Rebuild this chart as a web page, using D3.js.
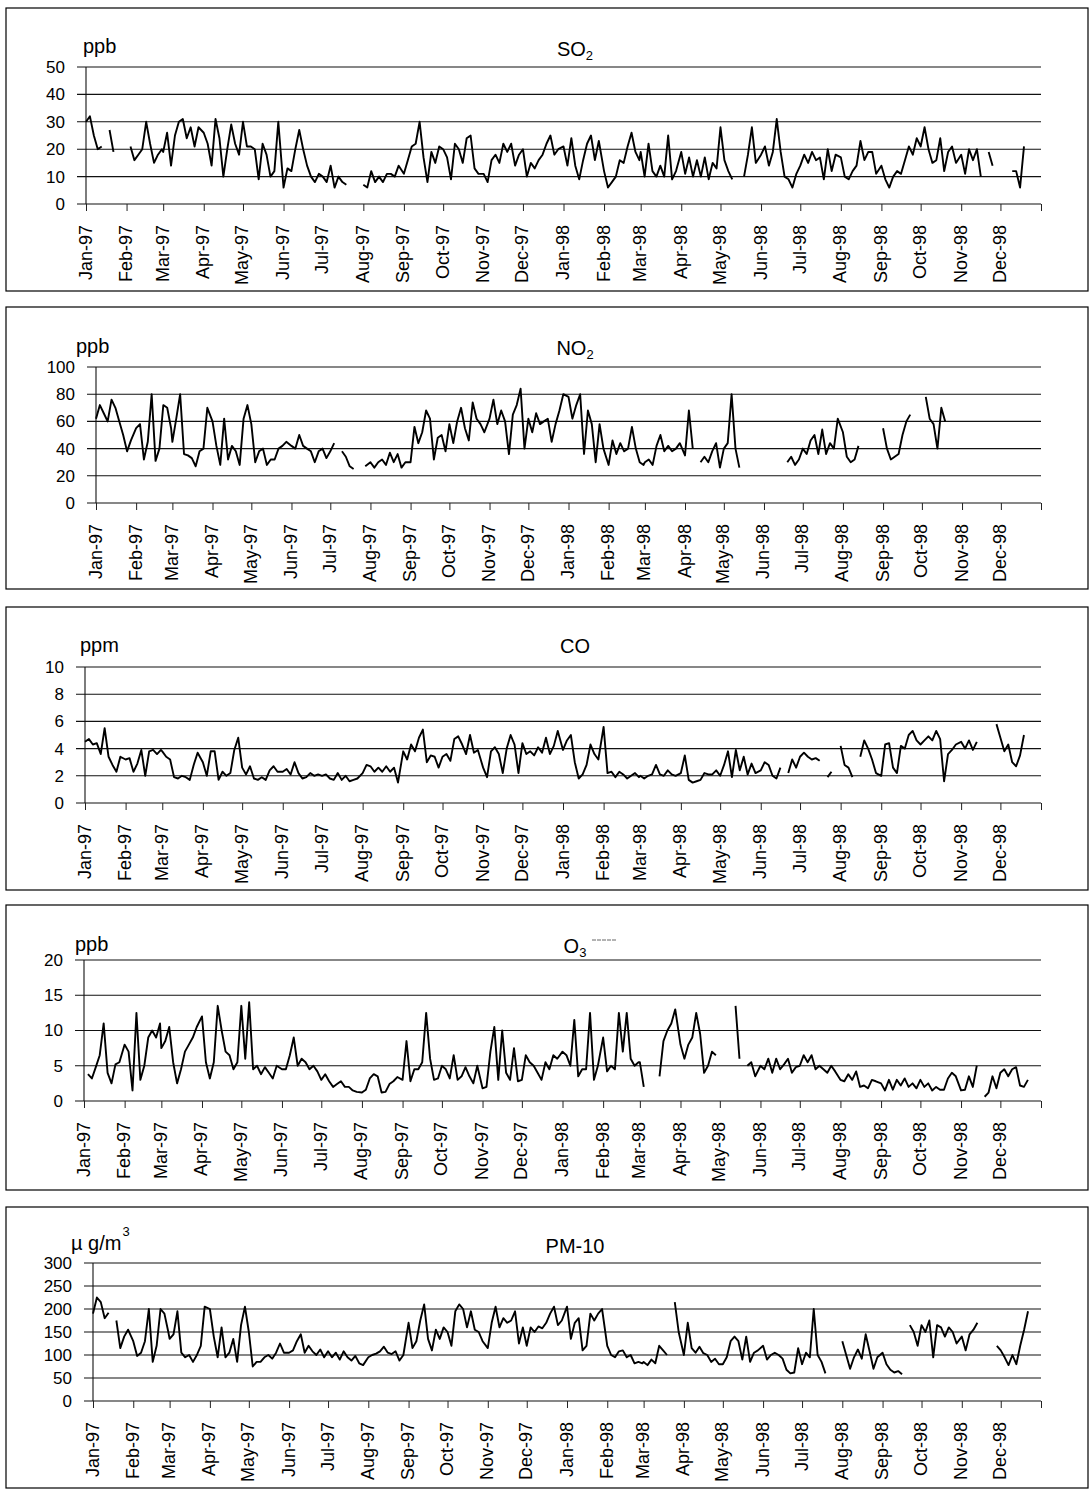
<!DOCTYPE html>
<html>
<head>
<meta charset="utf-8">
<script src="https://cdn.jsdelivr.net/npm/d3@7"></script>
<style>
body { margin: 0; background: #fff; }
text { font-family: Arial, "Liberation Sans", sans-serif; fill: #000; }
</style>
</head>
<body>
<div id="chart"></div>
<script>
var sampleDays = [1, 4, 7, 10, 13, 16, 19, 22, 25, 28];

var so2 = [
    30,32,25,20,21,null,27,19,null,null,   // Jan-97
    null,21,16,18,20,30,22,15,18,20,
    19,26,14,25,30,31,24,28,21,28,
    26,22,14,31,24,10,20,29,22,18,
    30,21,21,20,9,22,18,10,12,30,
    6,13,12,20,27,20,14,10,8,11,
    10,8,14,6,10,8,7,null,null,null,
    7,6,12,8,10,8,11,11,10,14,
    11,16,21,22,30,17,8,19,15,21,
    20,17,9,22,20,15,24,25,13,11,
    11,8,16,18,15,22,19,22,14,18,
    20,10,15,13,16,18,22,25,18,20,
    21,14,24,14,9,16,22,25,16,23,          // Jan-98
    12,6,8,10,16,15,21,26,19,16,
    19,10,22,12,10,14,10,25,9,12,
    19,11,17,10,16,10,17,9,15,13,
    28,16,12,9,null,null,10,18,28,15,
    18,21,14,19,31,19,10,9,6,11,
    14,18,15,19,16,17,9,20,12,18,
    17,10,9,12,14,23,16,19,19,11,
    14,9,6,10,12,11,16,21,18,24,
    21,28,20,15,16,24,12,19,21,15,
    18,11,20,16,20,10,null,19,14,null,
    null,null,null,12,12,6,21,null,null,null
];

var no2 = [
    62,72,66,60,76,70,60,50,38,46,         // Jan-97
    55,58,32,45,80,31,40,72,70,55,
    45,62,80,36,35,33,27,38,40,70,
    60,42,28,62,32,42,38,28,62,72,
    58,30,38,40,28,32,32,40,42,45,
    42,40,50,42,40,38,30,38,40,33,
    38,44,null,38,34,27,25,null,null,27,
    30,26,30,32,28,37,30,36,26,30,
    30,56,44,52,68,62,32,48,50,38,
    58,44,60,70,55,46,74,62,58,52,
    62,76,58,68,60,36,65,72,84,40,
    62,52,66,58,60,62,45,58,68,80,
    78,62,72,80,36,68,58,30,58,40,         // Jan-98
    28,46,36,44,38,40,56,40,30,28,
    30,32,28,42,50,38,42,38,40,44,
    35,68,40,null,30,34,30,38,44,26,
    40,44,80,40,26,null,null,null,null,null,
    null,null,null,null,null,null,30,34,28,32,
    40,36,46,50,36,54,36,44,40,62,
    52,34,30,32,42,null,null,null,null,null,
    55,40,32,34,36,50,60,65,null,null,
    null,78,62,58,40,70,60,null,null,null,
    null,null,null,null,null,null,null,null,null,null,
    null,null,null,null,null,null,null,null,null,null
];

var co = [
    4.5,4.7,4.3,4.4,3.6,5.5,3.4,2.8,2.3,3.4,   // Jan-97
    3.2,3.3,2.3,2.9,3.9,2.0,3.8,3.9,3.6,3.9,
    3.8,3.4,3.2,1.9,1.8,2.0,1.9,1.7,2.8,3.7,
    3.0,2.0,3.8,3.8,1.7,2.3,2.0,2.2,3.9,4.8,
    2.6,2.1,2.7,1.8,1.7,1.9,1.7,2.4,2.7,2.3,
    2.3,2.5,2.1,3.0,2.2,1.8,1.9,2.2,2.0,2.1,
    2.0,2.1,1.8,1.7,2.2,1.7,2.0,1.6,1.7,1.8,
    2.2,2.8,2.7,2.3,2.6,2.3,2.7,2.3,2.6,1.5,
    3.8,3.2,4.3,3.8,4.8,5.4,3.0,3.5,3.4,2.6,
    3.4,3.6,3.1,4.7,4.9,4.3,3.6,5.0,3.7,3.9,
    2.6,1.9,3.8,4.1,3.6,2.2,4.0,5.0,4.3,2.2,
    4.4,3.6,3.8,3.5,4.1,3.7,4.8,3.6,4.2,5.3,
    3.9,4.6,5.0,3.0,1.8,2.1,2.8,4.3,3.6,3.2,   // Jan-98
    5.6,2.2,2.3,1.9,2.3,2.1,1.8,2.0,2.2,1.9,
    2.0,1.8,2.0,2.1,2.8,2.1,2.0,2.4,2.1,2.0,
    2.2,3.5,1.7,1.5,1.6,1.7,2.2,2.1,2.1,2.4,
    2.0,2.8,3.8,1.9,3.9,2.4,3.4,2.1,2.9,2.2,
    2.4,3.0,2.8,2.0,1.8,2.6,null,2.2,3.2,2.6,
    3.4,3.7,3.4,3.2,3.3,3.1,null,1.9,2.3,null,
    4.2,2.8,2.6,1.9,null,3.4,4.6,4.0,3.2,2.2,
    2.0,4.3,4.4,2.6,2.2,4.2,4.0,5.0,5.3,4.6,
    4.3,4.6,4.9,4.6,5.3,4.7,1.6,3.6,3.9,4.3,
    4.5,4.0,4.6,3.9,4.5,null,null,null,null,5.8,
    4.8,3.8,4.3,3.0,2.7,3.5,5.0,null,null,null
];

var o3 = [
    null,3.8,3.2,4.8,6.5,11,4.0,2.5,5.2,5.5,    // Jan-97
    8.0,7.0,1.5,12.5,3.0,5.0,9.0,10.0,9.0,11.0,
    7.5,8.5,10.5,5.5,2.5,4.5,7.0,8.0,9.0,10.5,
    12,5.5,3.2,5.5,13.5,10,7.0,6.5,4.5,5.5,
    13.5,6.0,14.0,4.5,5.0,3.8,4.8,4.0,3.2,5.0,
    4.5,4.5,6.5,9.0,5.0,6.0,5.5,4.5,5.0,4.2,
    3.0,3.8,2.8,2.0,2.4,2.8,2.0,2.0,1.5,1.3,
    1.2,1.6,3.2,3.8,3.5,1.2,1.3,2.4,2.8,3.4,
    3.0,8.5,2.8,4.5,4.5,5.5,12.5,6.0,3.0,3.2,
    5.0,4.5,3.2,6.5,3.0,3.5,4.8,3.5,2.5,5.0,
    1.8,2.0,7.0,10.5,3.0,10.0,4.0,3.0,7.5,2.8,
    3.0,6.5,5.5,5.0,4.0,3.0,5.5,4.5,6.5,6.0,
    7.0,6.5,5.0,11.5,3.5,4.5,4.5,12.5,3.0,5.0,  // Jan-98
    9.0,4.2,5.0,4.5,12.5,7.0,12.5,6.0,5.0,5.5,
    5.5,2.0,null,null,null,3.5,8.5,10.0,11.0,13.0,
    8.0,6.0,8.0,9.0,12.5,9.5,4.0,5.0,7.0,6.5,
    null,null,null,null,13.5,6.0,null,5.0,5.5,3.5,
    5.0,4.5,6.0,4.0,6.0,4.5,5.2,6.0,4.0,4.8,
    5.0,6.5,5.5,6.5,4.5,5.0,4.5,4.0,5.0,4.2,
    3.0,2.8,3.8,3.0,4.2,2.0,2.2,1.8,3.0,2.8,
    2.5,1.5,3.0,1.6,3.0,2.2,3.2,2.0,2.5,1.8,
    3.0,2.0,2.5,1.5,2.0,1.6,1.6,3.2,4.0,3.5,
    1.5,1.6,3.5,2.0,5.0,null,0.6,1.2,3.5,1.8,
    4.0,4.5,3.5,4.5,4.8,2.2,2.0,3.0,null,null
];

var pm10 = [
    190,225,215,180,192,null,175,115,140,155,   // Jan-97
    130,98,105,130,200,85,120,200,190,150,
    135,145,195,105,95,100,85,100,120,205,
    200,140,95,160,95,105,135,85,165,205,
    150,75,85,85,95,100,92,105,125,105,
    105,110,130,145,105,120,108,100,112,95,
    108,95,105,90,108,95,88,98,82,78,
    95,100,103,108,118,105,102,108,88,100,
    170,115,130,175,210,135,110,155,135,160,
    150,120,195,210,200,160,195,155,150,130,
    115,170,205,160,180,170,175,195,125,160,
    120,160,150,162,158,170,190,205,165,175,
    205,135,170,180,110,120,190,175,190,200,    // Jan-98
    120,100,95,108,110,95,100,82,85,82,
    85,78,90,82,120,110,100,null,215,150,
    100,170,115,105,118,104,100,85,92,80,
    80,95,130,140,130,90,140,85,105,110,
    120,90,100,105,100,92,68,60,62,115,
    80,105,95,200,100,85,60,null,null,null,
    130,100,70,95,112,92,145,108,70,95,
    105,80,68,62,65,58,null,165,150,120,
    165,150,175,95,165,160,140,160,150,125,
    140,110,145,155,170,null,null,null,null,120,
    110,95,78,100,80,120,155,195,null,null
];

var so2Ticks = [0, 10, 20, 30, 40, 50];
var no2Ticks = [0, 20, 40, 60, 80, 100];
var coTicks = [0, 2, 4, 6, 8, 10];
var o3Ticks = [0, 5, 10, 15, 20];
var pm10Ticks = [0, 50, 100, 150, 200, 250, 300];

var startDate = new Date(1997, 0, 1),
    endDate = new Date(1999, 0, 1);
var monthTicks = d3.timeMonth.range(startDate, endDate);
var fmtMonth = d3.timeFormat("%b-%y");

// layout of the five boxes
var panels = [
    {title: "SO", sub: "2", unit: "ppb", values: so2, ticks: so2Ticks,
     box: [8, 291], plot: [67, 204], left: 86, unitX: 83, unitY: 53, titleY: 56},
    {title: "NO", sub: "2", unit: "ppb", values: no2, ticks: no2Ticks,
     box: [307, 589], plot: [367, 503], left: 96, unitX: 76, unitY: 353, titleY: 355},
    {title: "CO", sub: "", unit: "ppm", values: co, ticks: coTicks,
     box: [607, 890], plot: [667, 803], left: 85, unitX: 80, unitY: 652, titleY: 653},
    {title: "O", sub: "3", unit: "ppb", values: o3, ticks: o3Ticks,
     box: [905, 1190], plot: [960, 1101], left: 84, unitX: 75, unitY: 951, titleY: 953},
    {title: "PM-10", sub: "", unit: "\u00b5 g/m", sup: "3", values: pm10, ticks: pm10Ticks,
     box: [1207, 1488], plot: [1263, 1401], left: 93, unitX: 71, unitY: 1250, titleY: 1253}
];

var rightEdge = 1041;

var svg = d3.select("#chart")
    .append("svg")
        .attr("width", 1092)
        .attr("height", 1490);

panels.forEach(function (p) {
    var g = svg.append("g");

    // outer frame
    g.append("rect")
        .attr("x", 6)
        .attr("y", p.box[0])
        .attr("width", 1082)
        .attr("height", p.box[1] - p.box[0])
        .attr("fill", "none")
        .attr("stroke", "#000")
        .attr("stroke-width", 1.2);

    var x = d3.scaleTime()
        .domain([startDate, endDate])
        .range([p.left, rightEdge]);
    var y = d3.scaleLinear()
        .domain([0, d3.max(p.ticks)])
        .range([p.plot[1], p.plot[0]]);

    // horizontal grid lines
    g.selectAll("line.grid")
        .data(p.ticks)
        .enter().append("line")
        .attr("class", "grid")
        .attr("x1", p.left - 9)
        .attr("x2", rightEdge)
        .attr("y1", function (d) { return y(d); })
        .attr("y2", function (d) { return y(d); })
        .attr("stroke", "#111")
        .attr("stroke-width", 1.1);

    // y axis
    var yAxis = d3.axisLeft(y)
        .tickValues(p.ticks)
        .tickSize(0)
        .tickPadding(21);
    var ya = g.append("g")
        .attr("transform", "translate(" + p.left + ",0)")
        .call(yAxis);
    ya.select(".domain").remove();
    ya.selectAll("text")
        .style("font-size", "17px")
        .style("font-family", "Arial, 'Liberation Sans', sans-serif");

    g.append("line")
        .attr("x1", p.left).attr("x2", p.left)
        .attr("y1", p.plot[0]).attr("y2", p.plot[1])
        .attr("stroke", "#111")
        .attr("stroke-width", 1.1);

    // x axis with rotated month labels
    var xAxis = d3.axisBottom(x)
        .tickValues(monthTicks.concat([endDate]))
        .tickSize(7)
        .tickSizeOuter(0)
        .tickFormat(function (d) { return +d === +endDate ? "" : fmtMonth(d); });
    var xa = g.append("g")
        .attr("transform", "translate(0," + p.plot[1] + ")")
        .call(xAxis);
    xa.select(".domain").remove();
    xa.selectAll("line").attr("stroke", "#222");
    xa.selectAll("text")
        .attr("transform", "rotate(-90)")
        .attr("x", -21)
        .attr("y", 5)
        .attr("dy", 0)
        .style("text-anchor", "end")
        .style("font-size", "18px")
        .style("font-family", "Arial, 'Liberation Sans', sans-serif");

    // unit label
    var u = g.append("text")
        .attr("x", p.unitX)
        .attr("y", p.unitY)
        .style("font-size", "20px")
        .text(p.unit);
    if (p.sup) {
        u.append("tspan")
            .attr("dy", -14)
            .attr("dx", 1)
            .style("font-size", "13px")
            .text(p.sup);
    }

    // title
    var t = g.append("text")
        .attr("x", 575)
        .attr("y", p.titleY)
        .style("text-anchor", "middle")
        .style("font-size", "20px")
        .text(p.title);
    if (p.sub) {
        t.append("tspan")
            .attr("dy", 4)
            .style("font-size", "13px")
            .text(p.sub);
    }
    if (p.title === "O") {
        // the faint dash that follows the O3 title in the original
        g.append("line")
            .attr("x1", 592).attr("x2", 616)
            .attr("y1", p.titleY - 13).attr("y2", p.titleY - 13)
            .attr("stroke", "#666")
            .attr("stroke-width", 1)
            .attr("stroke-dasharray", "4,1");
    }

    // data line
    var points = p.values.map(function (v, i) {
        return {
            date: new Date(1997, Math.floor(i / 10), sampleDays[i % 10]),
            value: v
        };
    });
    var valueline = d3.line()
        .defined(function (d) { return d.value !== null; })
        .x(function (d) { return x(d.date); })
        .y(function (d) { return y(d.value); });

    g.append("path")
        .datum(points)
        .attr("d", valueline)
        .attr("fill", "none")
        .attr("stroke", "#000")
        .attr("stroke-width", 1.9)
        .attr("stroke-linejoin", "round");
});
</script>
</body>
</html>
